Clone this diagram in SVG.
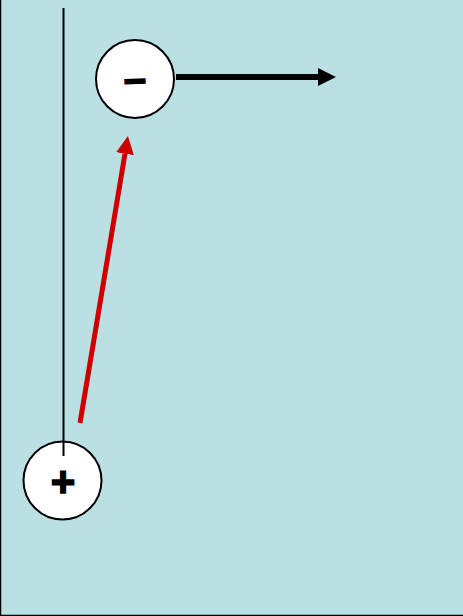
<svg xmlns="http://www.w3.org/2000/svg" width="463" height="616" viewBox="0 0 463 616">
<style>
.node circle{fill:#fff;stroke:#000;stroke-width:2}
.sign{font-family:"Liberation Sans",Arial,sans-serif;font-weight:bold;text-anchor:middle;fill:#000;stroke:#000;stroke-width:1.5}
</style>
<defs>
<marker id="ahB" markerUnits="userSpaceOnUse" markerWidth="20" markerHeight="18" refX="0" refY="9" orient="auto"><path d="M0,0 L18,9 L0,18 z" fill="#000"/></marker>
<marker id="ahR" markerUnits="userSpaceOnUse" markerWidth="20" markerHeight="18" refX="0" refY="9" orient="auto"><path d="M0,0 L18,9 L0,18 z" fill="#CC0000"/></marker>
</defs>
<rect x="0" y="0" width="463" height="616" fill="#BAE0E3"/>
<path d="M0.5,0 V615.5 H463" fill="none" stroke="#000" stroke-width="1.5"/>
<g id="node-minus" class="node">
<circle cx="135" cy="79" r="39"/>
<text class="sign" x="135" y="92" font-size="40" transform="rotate(-2 135 79)">–</text>
</g>
<g id="node-plus" class="node">
<circle cx="62.5" cy="480.5" r="39"/>
<text class="sign" x="63" y="496" font-size="42">+</text>
</g>
<g id="connectors">
<line x1="63.5" y1="8" x2="63.5" y2="456" stroke="#000" stroke-width="2"/>
<line x1="176" y1="77" x2="318" y2="77" stroke="#000" stroke-width="6" marker-end="url(#ahB)"/>
<line x1="80" y1="423" x2="125" y2="153.7" stroke="#CC0000" stroke-width="5" marker-end="url(#ahR)"/>
</g>
</svg>
